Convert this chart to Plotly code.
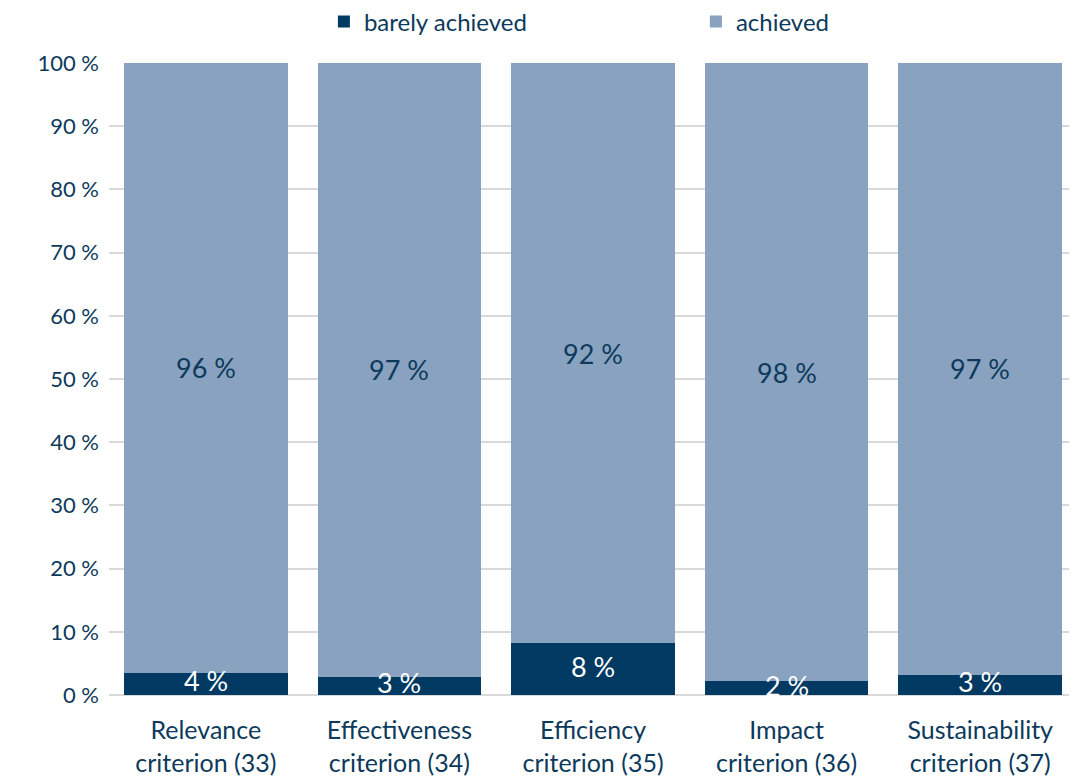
import plotly.graph_objects as go

categories = ["Relevance<br>criterion (33)", "Effectiveness<br>criterion (34)",
              "Efficiency<br>criterion (35)", "Impact<br>criterion (36)",
              "Sustainability<br>criterion (37)"]
barely = [3.5, 2.9, 8.2, 2.2, 3.2]
barely_labels = ["4 %", "3 %", "8 %", "2 %", "3 %"]
achieved = [96.5, 97.1, 91.8, 97.8, 96.8]
achieved_labels = ["96 %", "97 %", "92 %", "98 %", "97 %"]
y_ticks = list(range(0, 101, 10))

DARK = "#003a63"
LIGHT = "#88a2bf"
TEXT = "#0d3a5c"
FONT = "Lato"

fig = go.Figure()
fig.add_trace(go.Bar(x=categories, y=barely, name="barely achieved",
                     marker=dict(color=DARK, line=dict(width=0))))
fig.add_trace(go.Bar(x=categories, y=achieved, name="achieved",
                     marker=dict(color=LIGHT, line=dict(width=0))))

for cat, b, bl, a, al in zip(categories, barely, barely_labels, achieved, achieved_labels):
    fig.add_annotation(x=cat, y=b / 2, text=bl, showarrow=False,
                       font=dict(color="white", size=27, family=FONT), yshift=3)
    fig.add_annotation(x=cat, y=b + a / 2, text=al, showarrow=False,
                       font=dict(color=TEXT, size=27, family=FONT))

# page body has an 8px margin, so the figure is a bit smaller than the window
fig.update_layout(
    barmode="stack",
    bargap=0.155,
    width=1069, height=770,
    margin=dict(l=101, r=0, t=55, b=83),
    paper_bgcolor="white", plot_bgcolor="white",
    font=dict(family=FONT, color=TEXT, size=22),
    showlegend=True,
    legend=dict(orientation="h", x=0.222, xanchor="left",
                yref="container", y=0.982, yanchor="middle",
                font=dict(size=24, color=TEXT), entrywidth=327, entrywidthmode="pixels",
                traceorder="normal", itemclick=False),
    xaxis=dict(showline=False, ticks="", tickfont=dict(size=25, color=TEXT),
               ticklabelstandoff=18),
    yaxis=dict(range=[0, 100], tickvals=y_ticks, ticktext=[f"{v} %" for v in y_ticks],
               showgrid=True, gridcolor="#d9d9d9", gridwidth=1.5, zeroline=True,
               zerolinecolor="#d9d9d9", zerolinewidth=1.5,
               tickfont=dict(size=22, color=TEXT), ticks="", ticklabelstandoff=9),
)

fig.write_html("out.html")
